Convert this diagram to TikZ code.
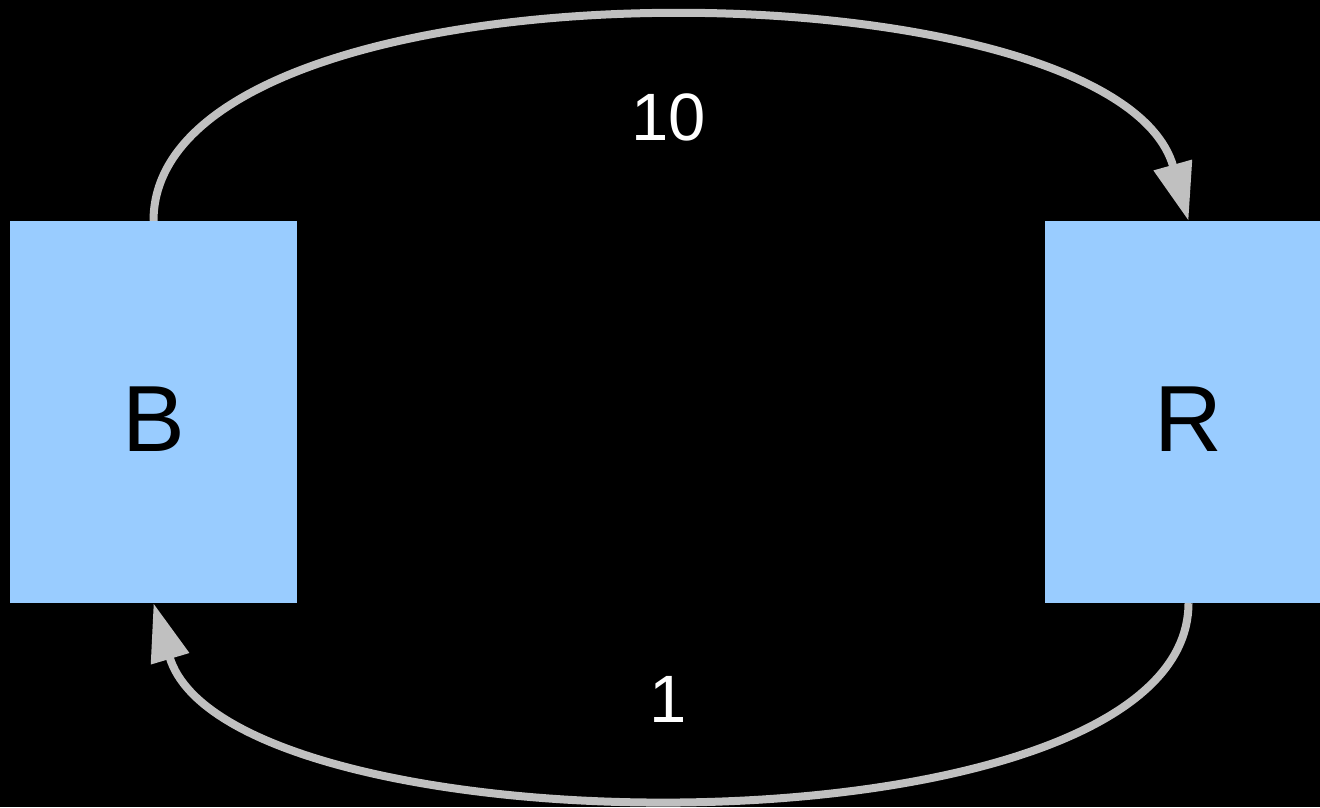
\documentclass[tikz,border=0pt]{standalone}
\usepackage{fontspec}
\setmainfont{Liberation Sans}
\usetikzlibrary{arrows.meta}
\definecolor{boxblue}{HTML}{99CCFF}
\definecolor{arrowgray}{HTML}{C0C0C0}
\begin{document}
\begin{tikzpicture}[x=1pt,y=-1pt,
  box/.style={fill=boxblue,draw=none,minimum width=287pt,minimum height=382pt,inner sep=0pt,text height=78pt,text depth=0pt,font=\fontsize{94}{100}\selectfont,text=black},
  link/.style={draw=arrowgray,line width=8pt,-{Triangle[length=58pt,width=38pt]}},
  lbl/.style={text=white,font=\fontsize{67}{70}\selectfont}]
\fill[black] (0,0) rectangle (1320,807);
\useasboundingbox (0,0) rectangle (1320,807);
\node[box] (B) at (153.5,412) {B};
\node[box] (R) at (1188.5,412) {R};
\draw[link] (B.north) .. controls (154,-50) and (1114,-44) .. (R.north);
\draw[link] (R.south) .. controls (1188,863) and (229,856) .. (B.south);
\node[lbl] (l10) at (668.5,117) {10};
\node[lbl] (l1) at (668,699) {1};
\end{tikzpicture}
\end{document}
